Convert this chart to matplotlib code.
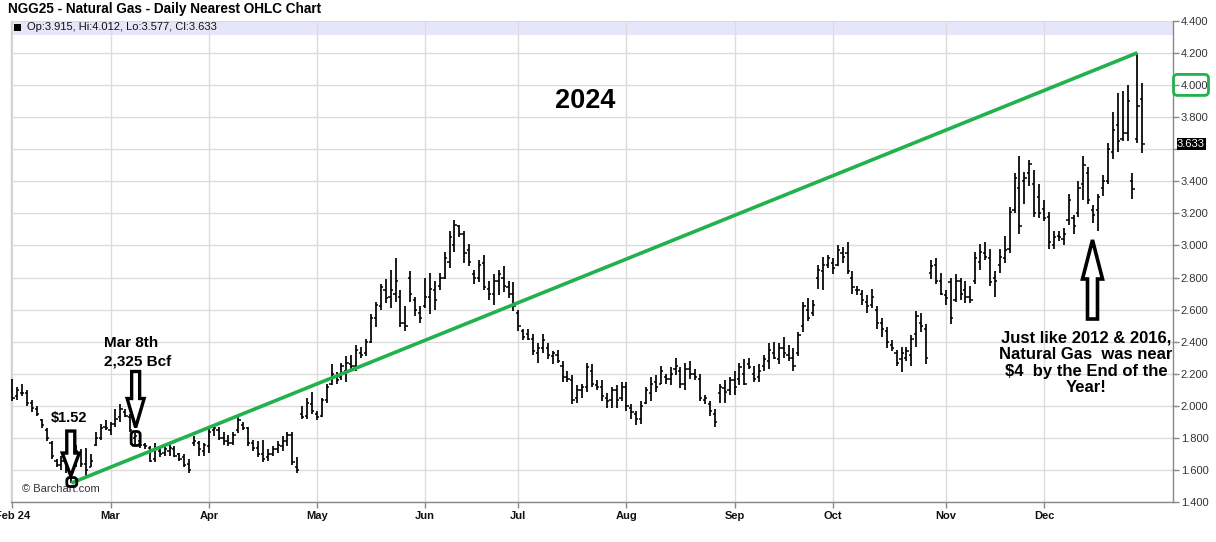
import matplotlib
matplotlib.use("Agg")
import matplotlib.pyplot as plt
from matplotlib.patches import Polygon, FancyBboxPatch, Rectangle
from matplotlib.transforms import IdentityTransform

plt.rcParams['font.family'] = ['Liberation Sans', 'DejaVu Sans']

# ---------------- data (daily bars, trading-day index 0 = 1 Feb 2024) ----------------
highs = [
    2.17, 2.12, 2.14, 2.10, 2.04, 2.00, 1.92, 1.86, 1.78, 1.67,
    1.69, 1.72, 1.73, 1.76, 1.73, 1.74, 1.70, 1.84, 1.89, 1.91,
    1.90, 1.98, 2.01, 1.98, 1.95, 1.83, 1.80, 1.77, 1.75, 1.77,
    1.75, 1.75, 1.76, 1.75, 1.71, 1.70, 1.67, 1.81, 1.78, 1.77,
    1.86, 1.88, 1.87, 1.84, 1.82, 1.84, 1.93, 1.90, 1.87, 1.79,
    1.78, 1.79, 1.73, 1.75, 1.78, 1.81, 1.84, 1.84, 1.68, 2.00,
    2.05, 2.09, 1.97, 2.05, 2.14, 2.26, 2.21, 2.27, 2.31, 2.32,
    2.38, 2.37, 2.42, 2.57, 2.65, 2.76, 2.79, 2.85, 2.92, 2.72,
    2.62, 2.84, 2.68, 2.62, 2.80, 2.83, 2.78, 2.83, 2.96, 3.09,
    3.16, 3.13, 3.09, 3.01, 2.85, 2.91, 2.94, 2.78, 2.82, 2.85,
    2.87, 2.78, 2.77, 2.60, 2.48, 2.48, 2.45, 2.39, 2.45, 2.39,
    2.34, 2.35, 2.28, 2.22, 2.19, 2.13, 2.14, 2.27, 2.26, 2.16,
    2.16, 2.08, 2.12, 2.13, 2.15, 2.15, 2.01, 1.97, 2.03, 2.12,
    2.18, 2.19, 2.25, 2.20, 2.24, 2.30, 2.24, 2.27, 2.28, 2.23,
    2.20, 2.07, 2.03, 1.98, 2.14, 2.16, 2.18, 2.22, 2.27, 2.29,
    2.30, 2.25, 2.26, 2.32, 2.39, 2.40, 2.39, 2.43, 2.38, 2.36,
    2.46, 2.65, 2.67, 2.66, 2.88, 2.93, 2.94, 2.92, 3.00, 2.99,
    3.02, 2.84, 2.75, 2.72, 2.69, 2.73, 2.62, 2.55, 2.49, 2.41,
    2.35, 2.37, 2.37, 2.44, 2.59, 2.58, 2.51, 2.91, 2.92, 2.83,
    2.72, 2.80, 2.82, 2.80, 2.78, 2.75, 2.96, 3.01, 3.02, 2.98,
    2.84, 2.98, 3.06, 3.24, 3.45, 3.56, 3.46, 3.53, 3.47, 3.38,
    3.28, 3.21, 3.09, 3.09, 3.11, 3.32, 3.19, 3.40, 3.56, 3.49,
    3.25, 3.32, 3.44, 3.64, 3.83, 3.95, 3.96, 4.00, 3.45, 4.20,
    4.012]

lows = [
    2.03, 2.04, 2.06, 2.00, 1.96, 1.94, 1.86, 1.78, 1.67, 1.62,
    1.60, 1.58, 1.52, 1.62, 1.62, 1.56, 1.62, 1.75, 1.79, 1.85,
    1.82, 1.87, 1.90, 1.93, 1.84, 1.76, 1.74, 1.73, 1.65, 1.65,
    1.68, 1.69, 1.69, 1.68, 1.66, 1.62, 1.58, 1.75, 1.69, 1.69,
    1.71, 1.81, 1.79, 1.76, 1.75, 1.76, 1.83, 1.85, 1.75, 1.72,
    1.68, 1.65, 1.66, 1.69, 1.71, 1.72, 1.75, 1.63, 1.58, 1.92,
    1.92, 1.95, 1.91, 1.93, 2.02, 2.13, 2.14, 2.16, 2.15, 2.23,
    2.22, 2.30, 2.31, 2.39, 2.49, 2.60, 2.64, 2.61, 2.65, 2.49,
    2.47, 2.65, 2.56, 2.52, 2.61, 2.57, 2.60, 2.72, 2.79, 2.86,
    2.96, 3.05, 2.89, 2.87, 2.76, 2.77, 2.72, 2.66, 2.63, 2.69,
    2.71, 2.67, 2.59, 2.47, 2.41, 2.41, 2.32, 2.27, 2.33, 2.29,
    2.26, 2.27, 2.15, 2.15, 2.01, 2.02, 2.05, 2.09, 2.12, 2.10,
    2.03, 1.99, 1.99, 1.99, 2.03, 1.97, 1.92, 1.88, 1.89, 2.01,
    2.03, 2.09, 2.14, 2.14, 2.13, 2.19, 2.11, 2.10, 2.17, 2.16,
    2.03, 2.01, 1.94, 1.87, 2.02, 2.02, 2.07, 2.07, 2.13, 2.13,
    2.23, 2.15, 2.15, 2.22, 2.23, 2.29, 2.26, 2.30, 2.28, 2.22,
    2.31, 2.46, 2.53, 2.56, 2.73, 2.72, 2.86, 2.82, 2.87, 2.89,
    2.82, 2.70, 2.69, 2.63, 2.58, 2.61, 2.48, 2.43, 2.36, 2.34,
    2.25, 2.21, 2.28, 2.25, 2.37, 2.46, 2.26, 2.79, 2.76, 2.69,
    2.63, 2.51, 2.65, 2.66, 2.64, 2.64, 2.76, 2.85, 2.91, 2.75,
    2.68, 2.83, 2.89, 2.95, 3.20, 3.07, 3.26, 3.37, 3.18, 3.17,
    3.15, 2.98, 2.98, 3.03, 3.00, 3.13, 3.07, 3.18, 3.28, 3.26,
    3.14, 3.09, 3.31, 3.38, 3.54, 3.58, 3.65, 3.65, 3.29, 3.64,
    3.577]

opens = [
    2.10, 2.06, 2.08, 2.08, 2.02, 1.98, 1.91, 1.85, 1.77, 1.66,
    1.63, 1.66, 1.60, 1.63, 1.70, 1.64, 1.62, 1.76, 1.80, 1.87,
    1.85, 1.89, 1.93, 1.96, 1.93, 1.80, 1.78, 1.76, 1.74, 1.67,
    1.72, 1.71, 1.72, 1.73, 1.70, 1.68, 1.64, 1.77, 1.77, 1.72,
    1.75, 1.85, 1.85, 1.80, 1.78, 1.77, 1.85, 1.88, 1.86, 1.77,
    1.74, 1.70, 1.68, 1.70, 1.73, 1.75, 1.78, 1.82, 1.62, 1.95,
    1.94, 2.01, 1.95, 1.94, 2.04, 2.14, 2.18, 2.18, 2.22, 2.26,
    2.25, 2.33, 2.33, 2.40, 2.55, 2.62, 2.72, 2.68, 2.70, 2.68,
    2.52, 2.80, 2.66, 2.58, 2.62, 2.68, 2.72, 2.75, 2.80, 2.90,
    3.00, 3.12, 3.07, 2.97, 2.82, 2.80, 2.89, 2.73, 2.70, 2.78,
    2.80, 2.74, 2.70, 2.58, 2.47, 2.45, 2.42, 2.33, 2.36, 2.36,
    2.31, 2.32, 2.25, 2.18, 2.16, 2.05, 2.10, 2.12, 2.22, 2.13,
    2.12, 2.05, 2.04, 2.10, 2.05, 2.12, 1.99, 1.95, 1.92, 2.02,
    2.08, 2.15, 2.14, 2.18, 2.17, 2.23, 2.22, 2.14, 2.23, 2.20,
    2.17, 2.04, 2.01, 1.95, 2.08, 2.11, 2.10, 2.16, 2.17, 2.20,
    2.26, 2.20, 2.18, 2.25, 2.28, 2.33, 2.29, 2.36, 2.32, 2.30,
    2.33, 2.50, 2.60, 2.58, 2.80, 2.84, 2.88, 2.89, 2.88, 2.95,
    2.95, 2.80, 2.72, 2.70, 2.65, 2.63, 2.60, 2.52, 2.47, 2.38,
    2.33, 2.29, 2.30, 2.32, 2.45, 2.52, 2.48, 2.83, 2.88, 2.78,
    2.69, 2.77, 2.66, 2.78, 2.72, 2.68, 2.78, 2.90, 2.95, 2.92,
    2.80, 2.88, 2.92, 2.98, 3.22, 3.36, 3.40, 3.45, 3.38, 3.30,
    3.23, 3.18, 3.00, 3.06, 3.04, 3.16, 3.17, 3.20, 3.38, 3.45,
    3.22, 3.22, 3.36, 3.40, 3.58, 3.75, 3.66, 3.70, 3.40, 3.66,
    3.915]

closes = [
    2.05, 2.10, 2.08, 2.02, 1.99, 1.95, 1.88, 1.80, 1.69, 1.63,
    1.66, 1.60, 1.61, 1.72, 1.64, 1.60, 1.66, 1.80, 1.86, 1.86,
    1.89, 1.92, 1.98, 1.94, 1.85, 1.81, 1.76, 1.75, 1.66, 1.73,
    1.70, 1.73, 1.74, 1.69, 1.67, 1.63, 1.60, 1.78, 1.73, 1.76,
    1.84, 1.86, 1.80, 1.78, 1.77, 1.82, 1.91, 1.86, 1.77, 1.74,
    1.70, 1.67, 1.70, 1.73, 1.76, 1.78, 1.82, 1.65, 1.60, 1.93,
    2.02, 1.97, 1.93, 2.04, 2.12, 2.20, 2.16, 2.25, 2.27, 2.25,
    2.35, 2.32, 2.40, 2.55, 2.63, 2.74, 2.67, 2.72, 2.78, 2.52,
    2.50, 2.70, 2.60, 2.55, 2.68, 2.73, 2.66, 2.80, 2.92, 3.05,
    3.13, 3.07, 2.95, 2.90, 2.80, 2.88, 2.74, 2.70, 2.78, 2.82,
    2.75, 2.70, 2.62, 2.50, 2.43, 2.42, 2.34, 2.36, 2.41, 2.32,
    2.33, 2.28, 2.18, 2.17, 2.04, 2.10, 2.12, 2.24, 2.14, 2.12,
    2.06, 2.03, 2.10, 2.04, 2.12, 2.00, 1.96, 1.92, 2.00, 2.10,
    2.14, 2.12, 2.22, 2.17, 2.20, 2.25, 2.14, 2.23, 2.20, 2.18,
    2.05, 2.05, 1.97, 1.90, 2.12, 2.09, 2.16, 2.12, 2.24, 2.14,
    2.24, 2.17, 2.22, 2.29, 2.35, 2.30, 2.36, 2.33, 2.30, 2.25,
    2.44, 2.62, 2.55, 2.63, 2.85, 2.88, 2.92, 2.86, 2.97, 2.93,
    2.84, 2.74, 2.72, 2.66, 2.62, 2.68, 2.52, 2.48, 2.40, 2.36,
    2.27, 2.33, 2.34, 2.42, 2.56, 2.50, 2.30, 2.87, 2.78, 2.70,
    2.67, 2.55, 2.78, 2.70, 2.68, 2.66, 2.92, 2.96, 2.93, 2.77,
    2.78, 2.93, 2.97, 3.21, 3.42, 3.12, 3.42, 3.51, 3.20, 3.20,
    3.17, 3.02, 3.05, 3.05, 3.07, 3.28, 3.12, 3.36, 3.50, 3.28,
    3.19, 3.30, 3.40, 3.60, 3.72, 3.65, 3.70, 3.90, 3.35, 3.87,
    3.633]

month_start_idx = [0, 20, 40, 62, 84, 103, 125, 147, 167, 190, 210]
month_labels = ['Feb 24', 'Mar', 'Apr', 'May', 'Jun', 'Jul', 'Aug', 'Sep', 'Oct', 'Nov', 'Dec']
y_ticks = [1.4, 1.6, 1.8, 2.0, 2.2, 2.4, 2.6, 2.8, 3.0, 3.2, 3.4, 3.6, 3.8, 4.0, 4.2, 4.4]
low_idx, trend_end_idx, mar8_idx = 12, 229, 25
last_values = {'Op': 3.915, 'Hi': 4.012, 'Lo': 3.577, 'Cl': 3.633}

# ---------------- figure geometry ----------------
W, H = 1216, 542
fig = plt.figure(figsize=(W / 100, H / 100), dpi=100)
L_px, R_px, T_px, B_px = 11, 1173, 20.7, 502.3
ax = fig.add_axes([L_px / W, 1 - B_px / H, (R_px - L_px) / W, (B_px - T_px) / H])
ax.set_xlim(-0.27, 236.25)
ax.set_ylim(1.4, 4.4)

GREEN = '#22b14c'

# band at top of plot
ax.add_patch(Rectangle((0, 1 - 14.5 / (B_px - T_px)), 1, 14.5 / (B_px - T_px),
                       transform=ax.transAxes, facecolor='#e6e6fa', edgecolor='none', zorder=0.4))

# grid and ticks (label next to the last price is hidden behind the price tag)
ax.set_axisbelow(True)
ax.set_yticks(y_ticks)
ax.set_yticklabels(['' if abs(v - last_values['Cl']) < 0.06 else f'{v:.3f}' for v in y_ticks])
ax.set_xticks(month_start_idx)
ax.set_xticklabels(month_labels, fontweight='bold')
ax.grid(True, color='#dcdcdc', linewidth=1.0)

ax.yaxis.tick_right()
ax.tick_params(axis='y', direction='out', length=4, width=1, color='#888888',
               labelcolor='#333333', labelsize=8, pad=1.5)
ax.tick_params(axis='x', direction='out', length=4, width=1, color='#888888',
               labelcolor='#111111', labelsize=8, pad=2.5)
ax.spines['top'].set_visible(False)
ax.spines['left'].set_color('#cfcfcf')
ax.spines['right'].set_color('#888888')
ax.spines['bottom'].set_color('#888888')
for s in ['left', 'right', 'bottom']:
    ax.spines[s].set_linewidth(1.0)

# ---------------- OHLC bars ----------------
n = min(len(highs), len(lows), len(opens), len(closes))
xs = list(range(n))
ax.vlines(xs, lows[:n], highs[:n], color='black', linewidth=1.25, zorder=3)
ax.hlines(opens[:n], [x - 0.45 for x in xs], xs, color='black', linewidth=1.1, zorder=3)
ax.hlines(closes[:n], xs, [x + 0.45 for x in xs], color='black', linewidth=1.1, zorder=3)

# trend line
ax.plot([low_idx, trend_end_idx], [lows[low_idx], highs[trend_end_idx]],
        color=GREEN, linewidth=2.6, solid_capstyle='butt', zorder=4)

fig.canvas.draw()
ID = IdentityTransform()


def to_img(xd, yd):
    dx, dy = ax.transData.transform((xd, yd))
    return dx, H - dy


def add_text(px, py, s, **kw):
    fig.text(px / W, 1 - py / H, s, **kw)


def hollow_arrow(tipx, tipy, direction, head_len, head_w, shaft_len, shaft_w, lw=2.4):
    s = 1 if direction == 'down' else -1
    pts = [(tipx, tipy),
           (tipx - head_w / 2, tipy - s * head_len),
           (tipx - shaft_w / 2, tipy - s * head_len),
           (tipx - shaft_w / 2, tipy - s * (head_len + shaft_len)),
           (tipx + shaft_w / 2, tipy - s * (head_len + shaft_len)),
           (tipx + shaft_w / 2, tipy - s * head_len),
           (tipx + head_w / 2, tipy - s * head_len)]
    pts = [(x, H - y) for x, y in pts]
    fig.add_artist(Polygon(pts, closed=True, transform=ID, facecolor='white',
                           edgecolor='black', linewidth=lw, joinstyle='miter', zorder=6))


def round_box(cx, cy, w, h, color='black', lw=2.0, r=3, face='none', z=6):
    fig.add_artist(FancyBboxPatch((cx - w / 2, H - cy - h / 2), w, h,
                                  boxstyle=f'round,pad=0,rounding_size={r}',
                                  transform=ID, facecolor=face, edgecolor=color,
                                  linewidth=lw, zorder=z))


# $1.52 annotation
bx, by = to_img(low_idx, lows[low_idx])
round_box(bx + 0.5, by - 1, 10, 9)
hollow_arrow(bx - 0.5, by - 7, 'down', 23, 17, 22, 8)
add_text(69, 418, '$1.52', fontsize=10.5, fontweight='bold', ha='center', va='center')

# Mar 8th annotation
mx, my = to_img(mar8_idx, lows[mar8_idx])
round_box(mx + 0.5, my - 6, 9, 14)
hollow_arrow(mx + 0.5, my - 17, 'down', 29, 17, 27, 8)
add_text(131, 343, 'Mar 8th', fontsize=11, fontweight='bold', ha='center', va='center')
add_text(138, 361, '2,325 Bcf', fontsize=11, fontweight='bold', ha='center', va='center')

# End-of-year annotation
hollow_arrow(1092.5, 240, 'up', 39, 20, 40, 10, lw=2.6)
add_text(1086, 363, 'Just like 2012 & 2016,\nNatural Gas  was near\n$4  by the End of the\nYear!',
         fontsize=12, fontweight='bold', ha='center', va='center', linespacing=1.12)

# big year label
add_text(585, 101, '2024', fontsize=19.5, fontweight='bold', ha='center', va='center')

# title and legend
add_text(8, 9, 'NGG25 - Natural Gas - Daily Nearest OHLC Chart', fontsize=9.8,
         fontweight='bold', ha='left', va='center')
fig.add_artist(Rectangle((14, H - 31), 7, 7, transform=ID, facecolor='black', edgecolor='none'))
legend_str = ', '.join(f'{k}:{v:.3f}' for k, v in last_values.items())
add_text(27, 27.5, legend_str, fontsize=8, ha='left', va='center', color='#111111')

# watermark
add_text(22, 489, '\u00a9 Barchart.com', fontsize=8, ha='left', va='center', color='#333333')

# last price label on axis
lx, ly = to_img(ax.get_xlim()[1], last_values['Cl'])
fig.add_artist(Rectangle((1176.5, H - ly - 6), 29, 12, transform=ID,
                         facecolor='black', edgecolor='none', zorder=7))
add_text(1191, ly, f"{last_values['Cl']:.3f}", fontsize=8, color='white',
         ha='center', va='center', zorder=8)

# green box around 4.000 label
gx, gy = to_img(ax.get_xlim()[1], 4.0)
round_box(1191, gy, 35, 21, color=GREEN, lw=2.0, r=4)

fig.savefig('out.png', dpi=100)
